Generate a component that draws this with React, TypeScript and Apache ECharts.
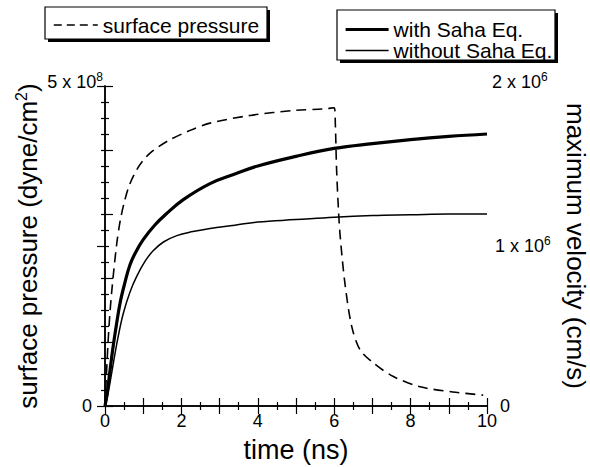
import React, { useEffect, useRef } from "react";
import * as echarts from "echarts";

// surface pressure (dyne/cm^2), left axis
const pressureTime = [0, 0.04, 0.1, 0.17, 0.3, 0.4, 0.52, 0.65, 0.83, 1.0, 1.18, 1.4, 1.7, 2.2, 2.75, 3.8, 5.0, 5.7, 6.0, 6.03, 6.06, 6.1, 6.15, 6.28, 6.46, 6.68, 7.03, 7.55, 8.25, 9.1, 9.9];
const pressureValues = [0, 0.52e8, 1.2e8, 1.75e8, 2.5e8, 2.9e8, 3.22e8, 3.47e8, 3.69e8, 3.84e8, 3.95e8, 4.05e8, 4.16e8, 4.3e8, 4.42e8, 4.54e8, 4.62e8, 4.64e8, 4.66e8, 4.4e8, 3.74e8, 3.2e8, 2.7e8, 1.92e8, 1.24e8, 0.875e8, 0.67e8, 0.46e8, 0.3e8, 0.22e8, 0.17e8];

// maximum velocity (cm/s) with Saha Eq., right axis
const sahaTime = [0, 0.05, 0.12, 0.2, 0.3, 0.4, 0.52, 0.65, 0.8, 1.0, 1.3, 1.6, 2.05, 2.75, 3.4, 4, 5, 6, 7, 8, 9, 10];
const sahaVelocity = [0, 0.07e6, 0.2e6, 0.35e6, 0.51e6, 0.65e6, 0.77e6, 0.88e6, 0.96e6, 1.04e6, 1.13e6, 1.2e6, 1.29e6, 1.39e6, 1.45e6, 1.5e6, 1.56e6, 1.61e6, 1.64e6, 1.665e6, 1.685e6, 1.7e6];

// maximum velocity (cm/s) without Saha Eq., right axis
const noSahaTime = [0, 0.05, 0.12, 0.22, 0.35, 0.48, 0.65, 0.83, 1.05, 1.26, 1.53, 1.88, 2.3, 2.75, 3.4, 4, 5, 6, 7, 8, 9, 10];
const noSahaVelocity = [0, 0.04e6, 0.13e6, 0.27e6, 0.44e6, 0.58e6, 0.71e6, 0.81e6, 0.905e6, 0.97e6, 1.025e6, 1.065e6, 1.09e6, 1.11e6, 1.13e6, 1.15e6, 1.165e6, 1.18e6, 1.19e6, 1.195e6, 1.2e6, 1.2e6];

const seriesNames = ["surface pressure", "with Saha Eq.", "without Saha Eq."];
const xTickLabels = ["0", "2", "4", "6", "8", "10"];

const FONT = "'Liberation Sans', Arial, Helvetica, sans-serif";

const zip = (xs: number[], ys: number[]) => xs.map((x, i) => [x, ys[i]]);

export default function App() {
  const ref = useRef<HTMLDivElement>(null);
  useEffect(() => {
    if (!ref.current) return;
    const chart = echarts.init(ref.current, null, { renderer: "svg" });
    const tickStyle = { color: "#000", width: 1.2 };
    const supRich = {
      b: { fontSize: 18, lineHeight: 22, color: "#000", fontFamily: FONT },
      b1: { fontSize: 18, lineHeight: 22, color: "#000", fontFamily: FONT, padding: [0, 0, 0, 3] },
      s: { fontSize: 12, lineHeight: 12, verticalAlign: "top", color: "#000", fontFamily: FONT },
      g: { fontSize: 1, lineHeight: 9 },
      zl: { fontSize: 18, color: "#000", fontFamily: FONT, padding: [0, 11, 0, 0] },
      zr: { fontSize: 18, color: "#000", fontFamily: FONT, padding: [0, 0, 0, 8] },
    };
    const hiddenSymbol = { color: "rgba(0,0,0,0)", borderColor: "rgba(0,0,0,0)", borderWidth: 0, opacity: 0 };
    const xBase = {
      type: "value",
      min: 0,
      max: 10,
      interval: 1,
      axisLine: { show: true, lineStyle: { color: "#000", width: 1.5 } },
      axisTick: { show: true, inside: true, length: 8, lineStyle: tickStyle },
      minorTick: { show: true, splitNumber: 2, length: 4, lineStyle: tickStyle },
      splitLine: { show: false },
    };
    const option = {
      animation: false,
      textStyle: { fontFamily: FONT, color: "#000" },
      grid: { left: 105, right: 103, top: 86, bottom: 61, outerBoundsMode: "none", containLabel: false },
      legend: [
        {
          data: [{ name: seriesNames[0], lineStyle: { width: 1.6, type: [8, 5] } }],
          left: 53,
          top: 14.5,
          padding: 0,
          itemWidth: 44,
          itemHeight: 14,
          itemGap: 0,
          selectedMode: false,
          z: 10,
          itemStyle: hiddenSymbol,
          textStyle: { fontSize: 21, lineHeight: 17, color: "#000", fontFamily: FONT },
        },
        {
          data: [
            { name: seriesNames[1], lineStyle: { width: 3.2 } },
            { name: seriesNames[2], lineStyle: { width: 1.5 } },
          ],
          orient: "vertical",
          left: 344,
          top: 19,
          padding: 0,
          itemWidth: 43,
          itemHeight: 14,
          itemGap: 0,
          selectedMode: false,
          z: 10,
          itemStyle: hiddenSymbol,
          textStyle: { fontSize: 21, lineHeight: 17, color: "#000", fontFamily: FONT },
        },
      ],
      graphic: [
        { type: "rect", z: 1, shape: { x: 48, y: 10, width: 222, height: 32 }, style: { fill: "#000" } },
        { type: "rect", z: 2, shape: { x: 45, y: 7, width: 222, height: 32 }, style: { fill: "#fff", stroke: "#000", lineWidth: 1.2 } },
        { type: "rect", z: 1, shape: { x: 340, y: 13, width: 218, height: 50 }, style: { fill: "#000" } },
        { type: "rect", z: 2, shape: { x: 337, y: 10, width: 218, height: 50 }, style: { fill: "#fff", stroke: "#000", lineWidth: 1.2 } },
      ],
      xAxis: [
        {
          ...xBase,
          position: "bottom",
          axisLabel: {
            show: true,
            fontSize: 18,
            color: "#000",
            margin: 6,
            formatter: (v: number) => (v % 2 === 0 ? xTickLabels[v / 2] : ""),
          },
          name: "time (ns)",
          nameLocation: "middle",
          nameGap: 28,
          nameMoveOverlap: false,
          nameTextStyle: { fontSize: 27, lineHeight: 32, color: "#000", fontFamily: FONT },
        },
        {
          ...xBase,
          position: "top",
          axisLabel: { show: false },
        },
      ],
      yAxis: [
        {
          type: "value",
          position: "left",
          min: 0,
          max: 5e8,
          interval: 1e8,
          axisLine: { show: true, lineStyle: { color: "#000", width: 1.5 } },
          axisTick: { show: true, inside: true, length: 8, lineStyle: tickStyle },
          minorTick: { show: true, splitNumber: 4, length: 4, lineStyle: tickStyle },
          splitLine: { show: false },
          axisLabel: {
            margin: 2,
            rich: supRich,
            formatter: (v: number) => (v === 0 ? "{zl|0}" : v === 5e8 ? "{b|5 x 10}{s|8}\n{g|}" : ""),
          },
          name: "{a|surface pressure (dyne/cm}{s|2}{a|)}",
          nameLocation: "middle",
          nameGap: 62,
          nameMoveOverlap: false,
          nameTextStyle: {
            fontSize: 26,
            rich: {
              a: { fontSize: 26, lineHeight: 30, color: "#000", fontFamily: FONT },
              s: { fontSize: 16, lineHeight: 16, verticalAlign: "top", color: "#000", fontFamily: FONT },
            },
          },
        },
        {
          type: "value",
          position: "right",
          min: 0,
          max: 2e6,
          interval: 1e6,
          axisLine: { show: true, lineStyle: { color: "#000", width: 1.5 } },
          axisTick: { show: true, inside: true, length: 8, lineStyle: tickStyle },
          minorTick: { show: true, splitNumber: 10, length: 4, lineStyle: tickStyle },
          splitLine: { show: false },
          axisLabel: {
            margin: 5,
            rich: supRich,
            formatter: (v: number) =>
              v === 0 ? "{zr|0}" : v === 1e6 ? "{b1|1 x 10}{s|6}" : v === 2e6 ? "{b|2 x 10}{s|6}\n{g|}" : "",
          },
          name: "maximum velocity (cm/s)",
          nameLocation: "middle",
          nameRotate: -90,
          nameGap: 77,
          nameMoveOverlap: false,
          nameTextStyle: { fontSize: 26, lineHeight: 24, color: "#000", fontFamily: FONT },
        },
      ],
      series: [
        {
          type: "line",
          name: seriesNames[0],
          xAxisIndex: 0,
          yAxisIndex: 0,
          data: zip(pressureTime, pressureValues),
          symbol: "none",
          smooth: 0.3,
          lineStyle: { color: "#000", width: 1.6, type: [10, 6] },
          itemStyle: { color: "#000" },
        },
        {
          type: "line",
          name: seriesNames[1],
          xAxisIndex: 0,
          yAxisIndex: 1,
          data: zip(sahaTime, sahaVelocity),
          symbol: "none",
          smooth: 0.4,
          lineStyle: { color: "#000", width: 3.2 },
          itemStyle: { color: "#000" },
        },
        {
          type: "line",
          name: seriesNames[2],
          xAxisIndex: 0,
          yAxisIndex: 1,
          data: zip(noSahaTime, noSahaVelocity),
          symbol: "none",
          smooth: 0.4,
          lineStyle: { color: "#000", width: 1.5 },
          itemStyle: { color: "#000" },
        },
      ],
    };
    chart.setOption(option as any);
    return () => chart.dispose();
  }, []);
  return (
    <div
      ref={ref}
      style={{ position: "fixed", left: 0, top: 0, width: 590, height: 467, background: "#fff" }}
    />
  );
}
